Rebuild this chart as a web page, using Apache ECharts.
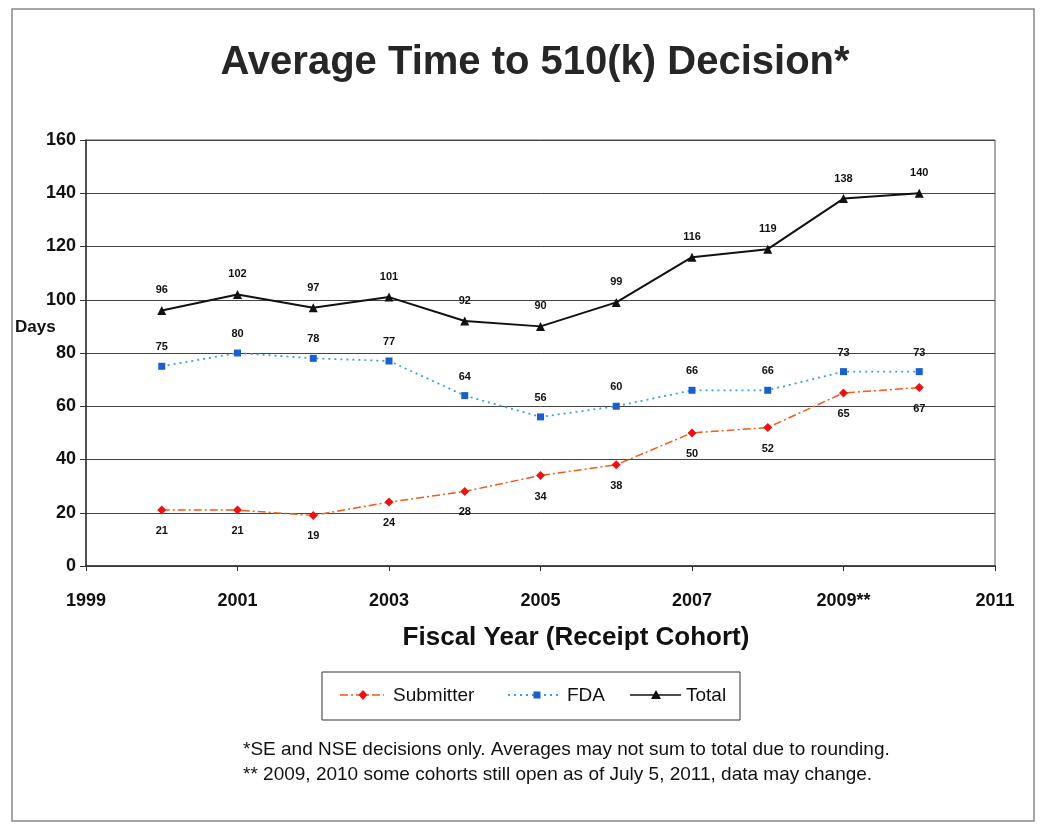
<!DOCTYPE html>
<html><head><meta charset="utf-8">
<script src="https://cdn.jsdelivr.net/npm/echarts@6/dist/echarts.min.js"></script>
<style>html,body{margin:0;padding:0;background:#fff}#c{width:1040px;height:825px}</style>
</head><body><div id="c"></div>
<script>
const years = [2000,2001,2002,2003,2004,2005,2006,2007,2008,2009,2010];
const submitter = [21,21,19,24,28,34,38,50,52,65,67];
const fda = [75,80,78,77,64,56,60,66,66,73,73];
const total = [96,102,97,101,92,90,99,116,119,138,140];
const xTickLabels = {1999:'1999',2001:'2001',2003:'2003',2005:'2005',2007:'2007',2009:'2009**',2011:'2011'};

const F = 'Liberation Sans, Arial, sans-serif';
const pair = arr => years.map((y,i)=>[y,arr[i]]);
const lbl = (pos, dist) => ({show:true, position:pos, distance:dist, fontFamily:F, fontSize:11, fontWeight:'bold', color:'#111'});
const txt = (x,y,text,size,weight,align) => ({type:'text', x:x, y:y, style:{text:text, fontFamily:F, fontSize:size, fontWeight:weight||'normal', fill:'#111', align:align||'left', verticalAlign:'middle'}});

const chart = echarts.init(document.getElementById('c'));
chart.setOption({
  backgroundColor:'#fff',
  animation:false,
  title:{text:'Average Time to 510(k) Decision*', left:530, top:38, textAlign:'center',
    textStyle:{fontFamily:F, fontSize:40, fontWeight:'bold', color:'#262626'}},
  grid:{left:86, right:45, top:140, bottom:259, show:true, borderColor:'#555', borderWidth:1},
  xAxis:{type:'value', min:1999, max:2011, interval:2,
    axisLine:{show:true, onZero:false, lineStyle:{color:'#333', width:1.5}},
    axisTick:{show:true, inside:false, length:5, lineStyle:{color:'#333'}},
    splitLine:{show:false},
    axisLabel:{margin:26, fontFamily:F, fontSize:18, fontWeight:'bold', color:'#111',
      formatter:v=>xTickLabels[v]||''}},
  yAxis:{type:'value', min:0, max:160, interval:20,
    axisLine:{show:true, lineStyle:{color:'#333', width:1.5}},
    axisTick:{show:true, length:6, lineStyle:{color:'#333'}},
    splitLine:{show:true, lineStyle:{color:'#444', width:1}},
    axisLabel:{margin:10, fontFamily:F, fontSize:18, fontWeight:'bold', color:'#111'}},
  series:[
    {name:'Submitter', type:'line', data:pair(submitter), symbol:'diamond', symbolSize:9,
      itemStyle:{color:'#ee1111'}, lineStyle:{color:'#f05a1a', width:1.5, type:[8,3,2,3]},
      label:lbl('bottom',11)},
    {name:'FDA', type:'line', data:pair(fda), symbol:'rect', symbolSize:7,
      itemStyle:{color:'#1a5fcc'}, lineStyle:{color:'#3aa0e0', width:1.8, type:[2,4]},
      label:lbl('top',10)},
    {name:'Total', type:'line', data:pair(total), symbol:'triangle', symbolSize:9,
      itemStyle:{color:'#111'}, lineStyle:{color:'#111', width:2},
      label:lbl('top',10)}
  ],
  graphic:[
    {type:'rect', shape:{x:12, y:9, width:1022, height:812}, style:{fill:'none', stroke:'#888', lineWidth:1.5}, silent:true, z:-1},
    txt(15,327,'Days',17,'bold'),
    txt(576,638,'Fiscal Year (Receipt Cohort)',26,'bold','center'),
    {type:'rect', shape:{x:322, y:672, width:418, height:48}, style:{fill:'#fff', stroke:'#333', lineWidth:1}},
    {type:'polyline', shape:{points:[[340,695],[384,695]]}, style:{stroke:'#f05a1a', lineWidth:1.5, lineDash:[8,3,2,3]}},
    {type:'polygon', shape:{points:[[363,690],[367.5,695],[363,700],[358.5,695]]}, style:{fill:'#ee1111'}},
    txt(393,696,'Submitter',19),
    {type:'polyline', shape:{points:[[508,695],[558,695]]}, style:{stroke:'#3aa0e0', lineWidth:1.8, lineDash:[2,4]}},
    {type:'rect', shape:{x:533.5, y:691.5, width:7, height:7}, style:{fill:'#1a5fcc'}},
    txt(567,696,'FDA',19),
    {type:'polyline', shape:{points:[[630,695],[681,695]]}, style:{stroke:'#111', lineWidth:1.5}},
    {type:'polygon', shape:{points:[[656,690],[661,699],[651,699]]}, style:{fill:'#111'}},
    txt(686,696,'Total',19),
    txt(243,750,'*SE and NSE decisions only. Averages may not sum to total due to rounding.',19),
    txt(243,775,'** 2009, 2010 some cohorts still open as of July 5, 2011, data may change.',19)
  ]
});
</script></body></html>
